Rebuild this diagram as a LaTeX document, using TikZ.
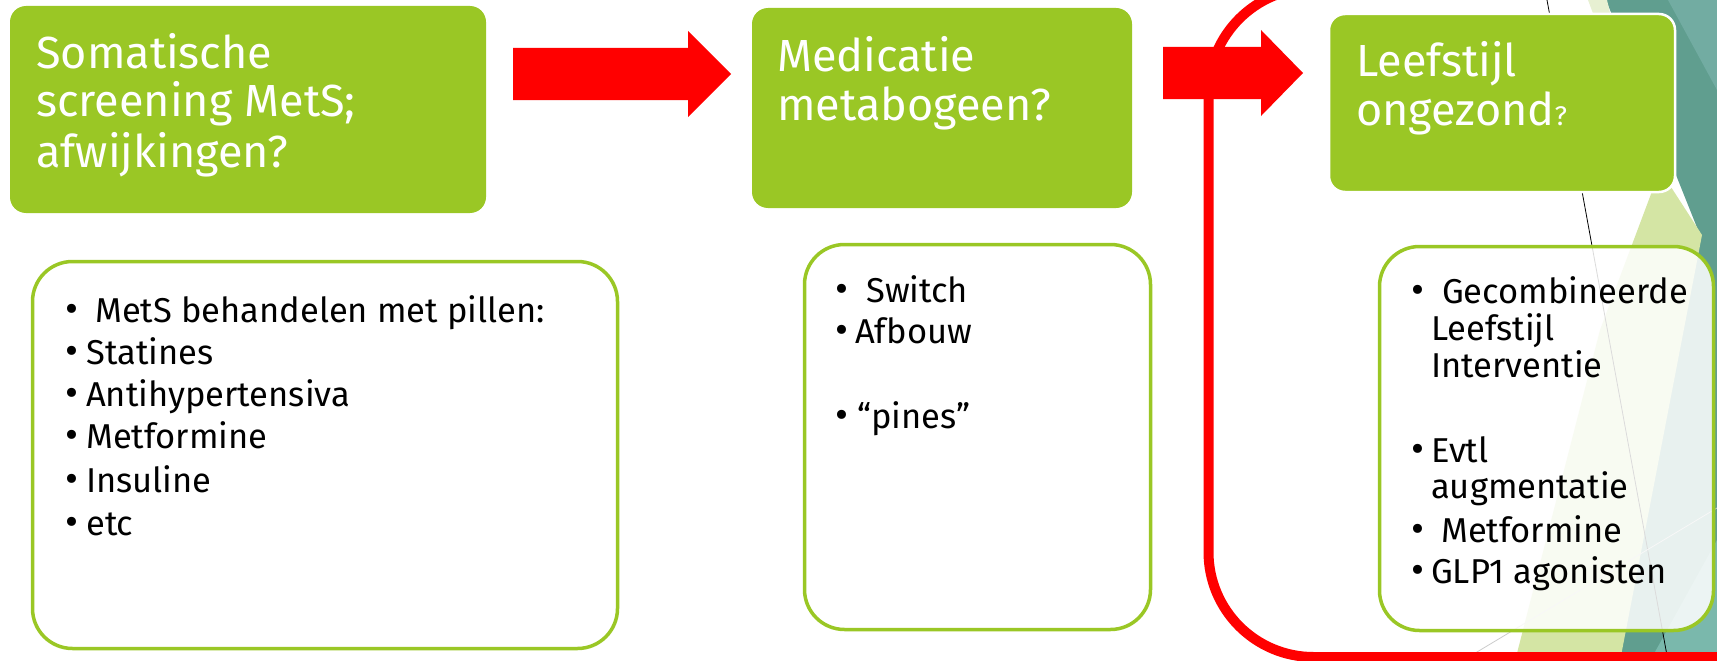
\documentclass[tikz,border=0pt]{standalone}
\usepackage{fontspec}
\setmainfont{Fira Sans}
\definecolor{mgreen}{RGB}{154,199,37}
\definecolor{teal1}{RGB}{96,158,143}
\definecolor{teal2}{RGB}{114,172,162}
\definecolor{teal3}{RGB}{122,184,172}
\definecolor{pale1}{RGB}{212,229,164}
\definecolor{pale2}{RGB}{231,240,210}
\definecolor{thin}{RGB}{170,170,170}
\tikzset{
  titlebox/.style={rectangle, rounded corners=16pt, fill=mgreen, inner sep=0pt, outer sep=0pt},
  listbox/.style={rectangle, rounded corners=40pt, draw=mgreen, line width=3.5pt, fill=white, inner sep=0pt, outer sep=0pt},
  titletext/.style={anchor=base west, inner sep=0pt, text=white, font=\fontsize{45}{49}\selectfont},
  listtext/.style={anchor=base west, inner sep=0pt, text=black, font=\fontsize{34.5}{40}\selectfont},
  bul/.style={anchor=base, inner sep=0pt, text=black, font=\fontsize{40}{40}\selectfont},
  blockarrow/.style={fill=red, draw=none},
}
\begin{document}
\begin{tikzpicture}[x=1pt,y=-1pt]
\useasboundingbox (0,0) rectangle (1717,661);
\clip (0,0) rectangle (1717,661);
% background decoration
\fill[teal1] (1606,0) -- (1717,0) -- (1717,661) -- (1618,661) -- (1700,235) -- cycle;
\fill[teal2] (1668,0) -- (1717,0) -- (1717,90) -- cycle;
\fill[teal3] (1717,540) -- (1717,661) -- (1650,661) -- cycle;
\fill[pale1] (1660,170) -- (1702,235) -- (1620,661) -- (1515,661) -- (1600,330) -- cycle;
\fill[pale2] (1588,0) -- (1607,0) -- (1640,140) -- cycle;
\draw[thin, line width=0.8pt] (1547,0) -- (1668,661);
\draw[thin!60, line width=0.8pt] (1462,661) -- (1717,508);

% title boxes
\node[titlebox, minimum width=476pt, minimum height=207pt] (t1) at (248,109.5) {};
\node[titlebox, minimum width=380pt, minimum height=200pt] (t2) at (942,108) {};
\node[titlebox, draw=white, line width=2.5pt, minimum width=346pt, minimum height=178pt] (t3) at (1502,103) {};

% list boxes
\node[listbox, minimum width=585pt, minimum height=387pt] (l1) at (325,455) {};
\node[listbox, minimum width=346pt, minimum height=385pt] (l2) at (977.5,437) {};
\node[listbox, fill opacity=0.86, minimum width=334pt, minimum height=384pt] (l3) at (1546.5,438.5) {};

% block arrows
\fill[blockarrow] (513,48) -- (688,48) -- (688,31) -- (731,74) -- (688,117) -- (688,100) -- (513,100) -- cycle;
\fill[blockarrow] (1163,47) -- (1261,47) -- (1261,30) -- (1303,73) -- (1261,116) -- (1261,99) -- (1163,99) -- cycle;

% red rounded frame
\draw[red, line width=10pt, rounded corners=105pt] (1208.5,-12) rectangle (1900,657);

% title texts
\node[titletext] (t1a) at (36,69) {Somatische};
\node[titletext] (t1b) at (36,117) {screening MetS;};
\node[titletext] (t1c) at (36,167) {afwijkingen?};
\node[titletext] (t2a) at (777,72) {Medicatie};
\node[titletext] (t2b) at (777,121) {metabogeen?};
\node[titletext] (t3a) at (1356,77) {Leefstijl};
\node[titletext] (t3b) at (1356,125) {ongezond{\fontsize{27}{27}\selectfont ?}};

% list 1
\node[bul] (b11) at (72,322) {•};
\node[listtext] (l1a) at (95,322) {MetS behandelen met pillen:};
\node[bul] (b12) at (72,364) {•};
\node[listtext] (l1b) at (86,364) {Statines};
\node[bul] (b13) at (72,406) {•};
\node[listtext] (l1c) at (86,406) {Antihypertensiva};
\node[bul] (b14) at (72,448) {•};
\node[listtext] (l1d) at (86,448) {Metformine};
\node[bul] (b15) at (72,492) {•};
\node[listtext] (l1e) at (86,492) {Insuline};
\node[bul] (b16) at (72,535) {•};
\node[listtext] (l1f) at (86,535) {etc};

% list 2
\node[bul] (b21) at (842,302) {•};
\node[listtext] (l2a) at (866,302) {Switch};
\node[bul] (b22) at (842,343) {•};
\node[listtext] (l2b) at (855,343) {Afbouw};
\node[bul] (b23) at (842,428) {•};
\node[listtext] (l2c) at (857,428) {“pines”};

% list 3
\node[bul] (b31) at (1418,303) {•};
\node[listtext] (l3a) at (1442,303) {Gecombineerde};
\node[listtext] (l3b) at (1431,340) {Leefstijl};
\node[listtext] (l3c) at (1431,377) {Interventie};
\node[bul] (b32) at (1418,462) {•};
\node[listtext] (l3d) at (1431,462) {Evtl};
\node[listtext] (l3e) at (1431,498) {augmentatie};
\node[bul] (b33) at (1418,542) {•};
\node[listtext] (l3f) at (1441,542) {Metformine};
\node[bul] (b34) at (1418,583) {•};
\node[listtext] (l3g) at (1431,583) {GLP1 agonisten};
\end{tikzpicture}
\end{document}
